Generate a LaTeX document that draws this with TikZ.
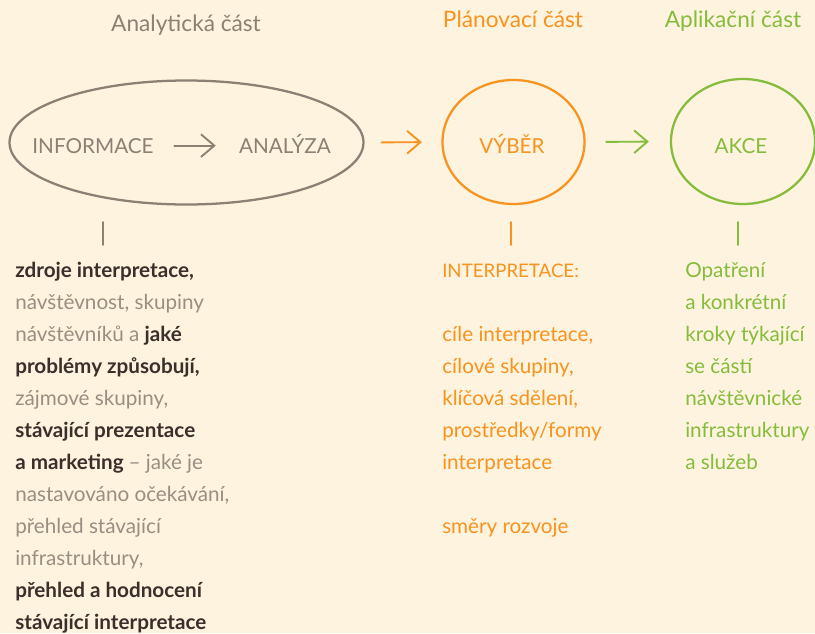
\documentclass[tikz,border=0pt]{standalone}
\usepackage{fontspec}
\setmainfont{Lato}
\usetikzlibrary{shapes.geometric,arrows.meta}

\definecolor{bgcream}{HTML}{FDF3DF}
\definecolor{brownline}{HTML}{8E7F74}
\definecolor{lighttext}{HTML}{9C8D83}
\definecolor{darktext}{HTML}{3B2F2B}
\definecolor{planorange}{HTML}{F7931E}
\definecolor{appgreen}{HTML}{86BC3C}

\newcommand{\drk}{\color{darktext}\bfseries}
\newcommand{\lgt}{\color{lighttext}\mdseries}

\tikzset{
  sketch/.style={line width=1.7pt, line cap=round},
  stub/.style={line width=1.4pt, line cap=round},
  flow/.style={line width=1.4pt, line cap=round, -{Straight Barb[length=10pt,width=17pt]}},
  title/.style={font=\fontsize{17}{20}\selectfont, anchor=base},
  caps/.style={font=\fontsize{15.5}{18}\selectfont, anchor=base},
  item/.style={font=\fontsize{15.5}{18}\selectfont, anchor=base west, inner sep=0pt},
}

\begin{document}
\begin{tikzpicture}[x=0.75pt,y=0.75pt,yscale=-1,xscale=1]
%set diagram size 815 x 633
\fill[bgcream] (0,0) rectangle (815,633);
\useasboundingbox (0,0) rectangle (815,633);

% Titles
\node[title, text=brownline] (tAn) at (186,31) {Analytická část};
\node[title, text=planorange] (tPl) at (513,27) {Plánovací část};
\node[title, text=appgreen] (tAp) at (733,27) {Aplikační část};

%Shape: Ellipse
\node[sketch, draw=brownline, ellipse, minimum width=265.5pt, minimum height=93pt, inner sep=0pt] (analyza) at (186.5,142.5) {};
%Shape: Circle
\node[sketch, draw=planorange, ellipse, minimum width=106.5pt, minimum height=93pt, inner sep=0pt] (vyber) at (513.5,142) {};
%Shape: Circle
\node[sketch, draw=appgreen, ellipse, minimum width=108pt, minimum height=93.75pt, inner sep=0pt] (akce) at (743,141.5) {};

% Text Node
\node[caps, text=brownline] (info) at (93,153) {INFORMACE};
\node[caps, text=brownline] (anal) at (285,153) {ANALÝZA};
\node[caps, text=planorange] (vyb) at (512,153) {VÝBĚR};
\node[caps, text=appgreen] (akc) at (741,153) {AKCE};

%Straight Lines
\draw[flow, brownline, shorten <=12pt, shorten >=14pt] (info.east) -- (anal.west |- info.east);
\draw[flow, planorange, shorten <=12.75pt, shorten >=14.6pt] (analyza.east) -- (vyber.west);
\draw[flow, appgreen, shorten <=15.4pt, shorten >=15.75pt] (vyber.east) -- (akce.west);

% stubs under the parts
\coordinate (stA) at (103,222);
\coordinate (stP) at (511,222);
\coordinate (stK) at (738,222);
\draw[stub, brownline] (stA) -- ++(0,23);
\draw[stub, planorange] (stP) -- ++(0,23);
\draw[stub, appgreen] (stK) -- ++(0,23);

% Analytic column
\foreach \txt [count=\i] in {
  {\drk zdroje interpretace,},
  {návštěvnost, skupiny},
  {návštěvníků a \drk jaké},
  {\drk problémy způsobují,},
  {zájmové skupiny,},
  {\drk stávající prezentace},
  {\drk a marketing \lgt – jaké je},
  {nastavováno očekávání,},
  {přehled stávající},
  {infrastruktury,},
  {\drk přehled a hodnocení},
  {\drk stávající interpretace}}
  \node[item, text=lighttext] (an\i) at (15,245+32*\i) {\txt};

% Planning column
\foreach \i/\txt in {0/{\fontsize{14}{16}\selectfont INTERPRETACE:}, 2/{cíle interpretace,}, 3/{cílové skupiny,},
  4/{klíčová sdělení,}, 5/{prostředky/formy}, 6/{interpretace}, 8/{směry rozvoje}}
  \node[item, text=planorange] (pl\i) at (442,277+32*\i) {\txt};

% Application column
\foreach \txt [count=\i] in {Opatření, a konkrétní, kroky týkající, se částí,
  návštěvnické, infrastruktury, a služeb}
  \node[item, text=appgreen] (ap\i) at (685,245+32*\i) {\txt};

\end{tikzpicture}
\end{document}
